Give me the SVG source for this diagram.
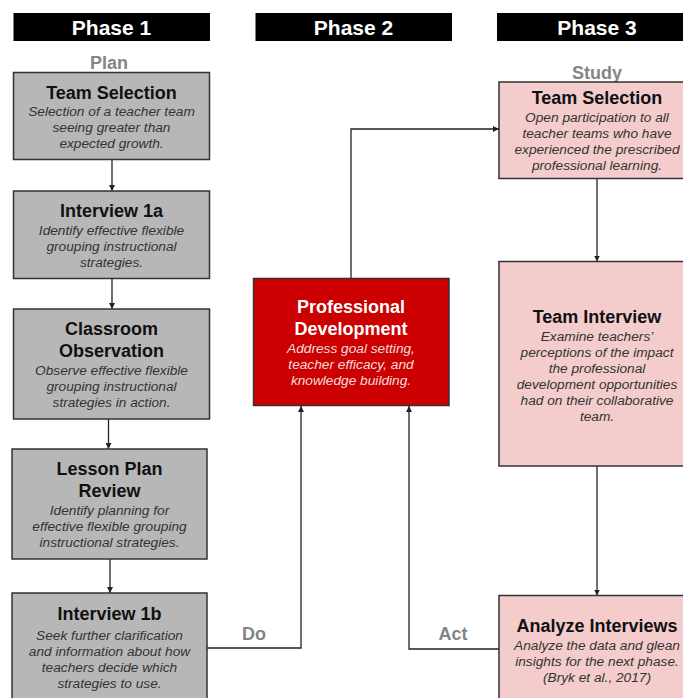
<svg xmlns="http://www.w3.org/2000/svg" width="683" height="698" viewBox="0 0 683 698">
<style>
.hdr{fill:#000}
.hdrt{font-family:"Liberation Sans",Arial,sans-serif;font-weight:bold;font-size:21px;fill:#fff;text-anchor:middle}
.lbl{font-family:"Liberation Sans",Arial,sans-serif;font-weight:bold;font-size:18px;fill:#858585;text-anchor:middle}
.box{stroke:#333;stroke-width:1.5}
.gray{fill:#b7b7b7}
.red{fill:#cc0000}
.pink{fill:#f4cccc}
.t{font-family:"Liberation Sans",Arial,sans-serif;font-weight:bold;font-size:18px;fill:#111;text-anchor:middle}
.d{font-family:"Liberation Sans",Arial,sans-serif;font-style:italic;font-size:13.7px;fill:#333;text-anchor:middle}
.w{fill:#fff}
.wd{fill:#f3dede}
.c{fill:none;stroke:#222;stroke-width:1.3}
</style>
<defs>
<marker id="ah" viewBox="0 0 10 10" refX="10" refY="5" markerWidth="6" markerHeight="6" markerUnits="userSpaceOnUse" orient="auto">
<path d="M0,0 L10,5 L0,10 z" fill="#222"/>
</marker>
</defs>
<rect width="683" height="698" fill="#fff"/>
<g id="headers">
<rect class="hdr" x="13.5" y="13" width="196.5" height="28"/>
<text class="hdrt" x="111.5" y="35">Phase 1</text>
<rect class="hdr" x="255.5" y="13" width="196.5" height="28"/>
<text class="hdrt" x="353.5" y="35">Phase 2</text>
<rect class="hdr" x="497" y="13" width="196.5" height="28"/>
<text class="hdrt" x="597" y="35">Phase 3</text>
</g>
<g id="labels">
<text class="lbl" x="109" y="69">Plan</text>
<text class="lbl" x="597" y="79">Study</text>
<text class="lbl" x="254" y="640">Do</text>
<text class="lbl" x="453" y="640">Act</text>
</g>
<g id="connectors">
<path class="c" d="M112,159.5 V191" marker-end="url(#ah)"/>
<path class="c" d="M112,278 V309" marker-end="url(#ah)"/>
<path class="c" d="M108.5,419 V449" marker-end="url(#ah)"/>
<path class="c" d="M110,559 V593" marker-end="url(#ah)"/>
<path class="c" d="M207,648 H301 V406" marker-end="url(#ah)"/>
<path class="c" d="M499,649 H409 V406" marker-end="url(#ah)"/>
<path class="c" d="M351,278.5 V129 H499" marker-end="url(#ah)"/>
<path class="c" d="M597,178.5 V261.5" marker-end="url(#ah)"/>
<path class="c" d="M597,466 V595.5" marker-end="url(#ah)"/>
</g>
<g id="p1-team-selection">
<rect class="box gray" x="13.5" y="72.5" width="196" height="87"/>
<text class="t" x="111.5" y="99">Team Selection</text>
<text class="d" x="111.5" y="116">Selection of a teacher team</text>
<text class="d" x="111.5" y="132">seeing greater than</text>
<text class="d" x="111.5" y="148">expected growth.</text>
</g>
<g id="p1-interview-1a">
<rect class="box gray" x="13.5" y="191" width="196" height="87.5"/>
<text class="t" x="111.5" y="217">Interview 1a</text>
<text class="d" x="111.5" y="235">Identify effective flexible</text>
<text class="d" x="111.5" y="251">grouping instructional</text>
<text class="d" x="111.5" y="267">strategies.</text>
</g>
<g id="p1-classroom-observation">
<rect class="box gray" x="13.5" y="309" width="196" height="110"/>
<text class="t" x="111.5" y="335">Classroom</text>
<text class="t" x="111.5" y="357">Observation</text>
<text class="d" x="111.5" y="375">Observe effective flexible</text>
<text class="d" x="111.5" y="391">grouping instructional</text>
<text class="d" x="111.5" y="407">strategies in action.</text>
</g>
<g id="p1-lesson-plan-review">
<rect class="box gray" x="12" y="449" width="195" height="110"/>
<text class="t" x="109.5" y="475">Lesson Plan</text>
<text class="t" x="109.5" y="497">Review</text>
<text class="d" x="109.5" y="515">Identify planning for</text>
<text class="d" x="109.5" y="531">effective flexible grouping</text>
<text class="d" x="109.5" y="547">instructional strategies.</text>
</g>
<g id="p1-interview-1b">
<rect class="box gray" x="12" y="593" width="195" height="120"/>
<text class="t" x="109.5" y="620">Interview 1b</text>
<text class="d" x="109.5" y="640">Seek further clarification</text>
<text class="d" x="109.5" y="656">and information about how</text>
<text class="d" x="109.5" y="672">teachers decide which</text>
<text class="d" x="109.5" y="688">strategies to use.</text>
</g>
<g id="p2-professional-development">
<rect class="box red" x="253.5" y="278.5" width="195.5" height="127"/>
<text class="t w" x="351" y="313">Professional</text>
<text class="t w" x="351" y="335">Development</text>
<text class="d wd" x="351" y="353">Address goal setting,</text>
<text class="d wd" x="351" y="369">teacher efficacy, and</text>
<text class="d wd" x="351" y="385">knowledge building.</text>
</g>
<g id="p3-team-selection">
<rect class="box pink" x="499" y="82" width="196" height="96.5"/>
<text class="t" x="597" y="104">Team Selection</text>
<text class="d" x="597" y="122">Open participation to all</text>
<text class="d" x="597" y="138">teacher teams who have</text>
<text class="d" x="597" y="154">experienced the prescribed</text>
<text class="d" x="597" y="170">professional learning.</text>
</g>
<g id="p3-team-interview">
<rect class="box pink" x="499" y="261.5" width="196" height="204.5"/>
<text class="t" x="597" y="323">Team Interview</text>
<text class="d" x="597" y="341">Examine teachers’</text>
<text class="d" x="597" y="357">perceptions of the impact</text>
<text class="d" x="597" y="373">the professional</text>
<text class="d" x="597" y="389">development opportunities</text>
<text class="d" x="597" y="405">had on their collaborative</text>
<text class="d" x="597" y="421">team.</text>
</g>
<g id="p3-analyze-interviews">
<rect class="box pink" x="499" y="595.5" width="196" height="120"/>
<text class="t" x="597" y="632">Analyze Interviews</text>
<text class="d" x="597" y="650">Analyze the data and glean</text>
<text class="d" x="597" y="666">insights for the next phase.</text>
<text class="d" x="597" y="682">(Bryk et al., 2017)</text>
</g>
</svg>
